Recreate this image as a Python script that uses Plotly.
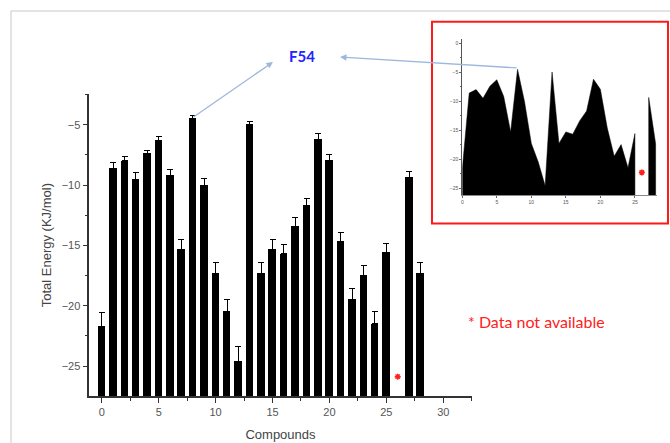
import plotly.graph_objects as go

# ---- data ----
compounds = list(range(29))
energy = [-21.7, -8.6, -8.0, -9.5, -7.4, -6.3, -9.2, -15.3, -4.5, -10.0,
          -17.3, -20.5, -24.6, -4.95, -17.3, -15.3, -15.7, -13.4, -11.7, -6.2,
          -7.95, -14.65, -19.5, -17.5, -21.5, -15.6, None, -9.35, -17.35]
energy_err = [1.1, 0.45, 0.35, 0.5, 0.3, 0.3, 0.5, 0.8, 0.25, 0.55,
              0.85, 1.0, 1.2, 0.2, 0.85, 0.75, 0.8, 0.7, 0.6, 0.45,
              0.45, 0.75, 0.95, 0.85, 1.05, 0.75, None, 0.45, 0.9]
missing_index = 26
highlight_index = 8
highlight_label = "F54"
x_ticks = [0, 5, 10, 15, 20, 25, 30]
y_ticks = [-25, -20, -15, -10, -5]
inset_y_ticks = [0, -5, -10, -15, -20, -25]

# ---- styling ----
W, H = 670, 443
Y_MIN, Y_MAX = -27.48, -2.48
X_MIN, X_MAX = -1.1, 32.5
INSET_Y_MIN, INSET_Y_MAX = -26.2, 0.74
AXIS_COLOR = "#333333"
TICK_FONT = dict(family="Liberation Sans, Arial, sans-serif", size=11, color="#555555")
ARROW_COLOR = "#9db8dc"
RED = "#ff2020"

def px(x):
    return x / W

def py(y):
    return 1 - y / H

fig = go.Figure()

# main bars (from axis floor up to value)
fig.add_trace(go.Bar(
    x=compounds,
    y=[(v - Y_MIN) if v is not None else None for v in energy],
    base=Y_MIN,
    width=0.66,
    marker=dict(color="black", line=dict(width=0)),
    error_y=dict(type="data", symmetric=False,
                 array=[e if e is not None else 0 for e in energy_err],
                 arrayminus=[0] * len(energy_err),
                 color="black", thickness=1, width=3),
    xaxis="x", yaxis="y", showlegend=False,
))

# missing-data asterisk (main)
fig.add_trace(go.Scatter(
    x=[compounds[missing_index]], y=[Y_MIN + 1.6], mode="markers",
    marker=dict(symbol="asterisk-open", size=5, color=RED,
                line=dict(color=RED, width=1.5)),
    xaxis="x", yaxis="y", showlegend=False,
))

# inset area polygons built from the data segments
poly_x, poly_y = [], []
seg = []
for c, v in list(zip(compounds, energy)) + [(None, None)]:
    if v is None:
        if seg:
            if poly_x:
                poly_x.append(None); poly_y.append(None)
            poly_x += [seg[0][0]] + [s[0] for s in seg] + [seg[-1][0]]
            poly_y += [INSET_Y_MIN] + [s[1] for s in seg] + [INSET_Y_MIN]
            seg = []
    else:
        seg.append((c, v))

fig.add_trace(go.Scatter(
    x=poly_x, y=poly_y, mode="lines", fill="toself",
    fillcolor="black", line=dict(color="black", width=0.5),
    xaxis="x2", yaxis="y2", showlegend=False,
))
fig.add_trace(go.Scatter(
    x=[compounds[missing_index]], y=[-22.3], mode="markers",
    marker=dict(symbol="asterisk-open", size=5, color=RED,
                line=dict(color=RED, width=1.6)),
    xaxis="x2", yaxis="y2", showlegend=False,
))

main_x_dom = [px(89.3), px(471.7)]
main_y_dom = [py(396), py(94.3)]
inset_x_dom = [px(462.3), px(657)]
inset_y_dom = [py(195), py(39)]

fig.update_layout(
    width=W, height=H,
    margin=dict(l=0, r=0, t=0, b=0),
    paper_bgcolor="white", plot_bgcolor="rgba(0,0,0,0)",
    bargap=0,
    xaxis=dict(domain=main_x_dom, range=[X_MIN, X_MAX], tickvals=x_ticks,
               showgrid=False, zeroline=False, showline=True, linecolor=AXIS_COLOR,
               linewidth=1.5, ticks="outside", ticklen=5, tickcolor=AXIS_COLOR,
               tickwidth=1.2, tickfont=TICK_FONT, automargin=False,
               minor=dict(dtick=2.5, tick0=0, ticks="outside", ticklen=3,
                          tickcolor=AXIS_COLOR, tickwidth=1.2),
               title=dict(text="Compounds", standoff=13,
                          font=dict(family="Liberation Sans, Arial, sans-serif",
                                    size=13, color="#444444"))),
    yaxis=dict(domain=main_y_dom, range=[Y_MIN, Y_MAX], tickvals=y_ticks,
               showgrid=False, zeroline=False, showline=True, linecolor=AXIS_COLOR,
               linewidth=1.5, ticks="outside", ticklen=5, tickcolor=AXIS_COLOR,
               tickwidth=1.2, tickfont=TICK_FONT, automargin=False,
               minor=dict(dtick=2.5, tick0=0, ticks="outside", ticklen=3,
                          tickcolor=AXIS_COLOR, tickwidth=1.2),
               title=dict(text="Total Energy (KJ/mol)", standoff=7,
                          font=dict(family="Liberation Sans, Arial, sans-serif",
                                    size=13, color="#444444"))),
    xaxis2=dict(domain=inset_x_dom, range=[0, 28.2], anchor="y2",
                tickvals=[0, 5, 10, 15, 20, 25],
                showgrid=False, zeroline=False, showline=True, linecolor="#888888",
                linewidth=1, ticks="outside", ticklen=2, tickcolor="#666666",
                tickfont=dict(family="Liberation Sans, Arial", size=5, color="#555555"),
                automargin=False),
    yaxis2=dict(domain=inset_y_dom, range=[INSET_Y_MIN, INSET_Y_MAX], anchor="x2",
                tickvals=inset_y_ticks,
                showgrid=False, zeroline=False, showline=True, linecolor="#555555",
                linewidth=1, ticks="outside", ticklen=2, tickcolor="#666666",
                minor=dict(dtick=2.5, tick0=0, ticks="outside", ticklen=1.5,
                           tickcolor="#666666"),
                tickfont=dict(family="Liberation Sans, Arial", size=5, color="#555555"),
                automargin=False),
    shapes=[
        # outer light frame
        dict(type="line", xref="paper", yref="paper", x0=px(11), x1=px(11),
             y0=0, y1=py(11), line=dict(color="#c8c8c8", width=1)),
        dict(type="line", xref="paper", yref="paper", x0=px(11), x1=1,
             y0=py(11), y1=py(11), line=dict(color="#c8c8c8", width=1)),
        # red inset box
        dict(type="rect", xref="paper", yref="paper", x0=px(432), x1=px(668),
             y0=py(223.5), y1=py(21.7), line=dict(color="#ff1a1a", width=2)),
    ],
    annotations=[
        dict(text="<b>" + highlight_label + "</b>", xref="paper", yref="paper",
             x=px(302), y=py(56), xanchor="center", yanchor="middle", showarrow=False,
             font=dict(family="Lato, Open Sans, sans-serif", size=15, color="#2323ff")),
        dict(text="* Data not available", xref="paper", yref="paper",
             x=px(536), y=py(321), xanchor="center", yanchor="middle", showarrow=False,
             font=dict(family="Lato, Open Sans, sans-serif", size=16, color=RED)),
        # arrow from the highlighted bar to the label
        dict(text="", xref="paper", yref="paper", x=px(273), y=py(62),
             ax=-81, ay=56, axref="pixel", ayref="pixel",
             showarrow=True, arrowhead=2, arrowsize=1, arrowwidth=1.3,
             arrowcolor=ARROW_COLOR),
        # arrow from the inset peak to the label
        dict(text="", xref="paper", yref="paper", x=px(340), y=py(57),
             ax=178, ay=11, axref="pixel", ayref="pixel",
             showarrow=True, arrowhead=2, arrowsize=1, arrowwidth=1.3,
             arrowcolor=ARROW_COLOR),
    ],
)

fig.write_html("out.html",
               config={"displayModeBar": False},
               post_script="document.body.style.margin='0px';document.body.style.overflow='hidden';")
